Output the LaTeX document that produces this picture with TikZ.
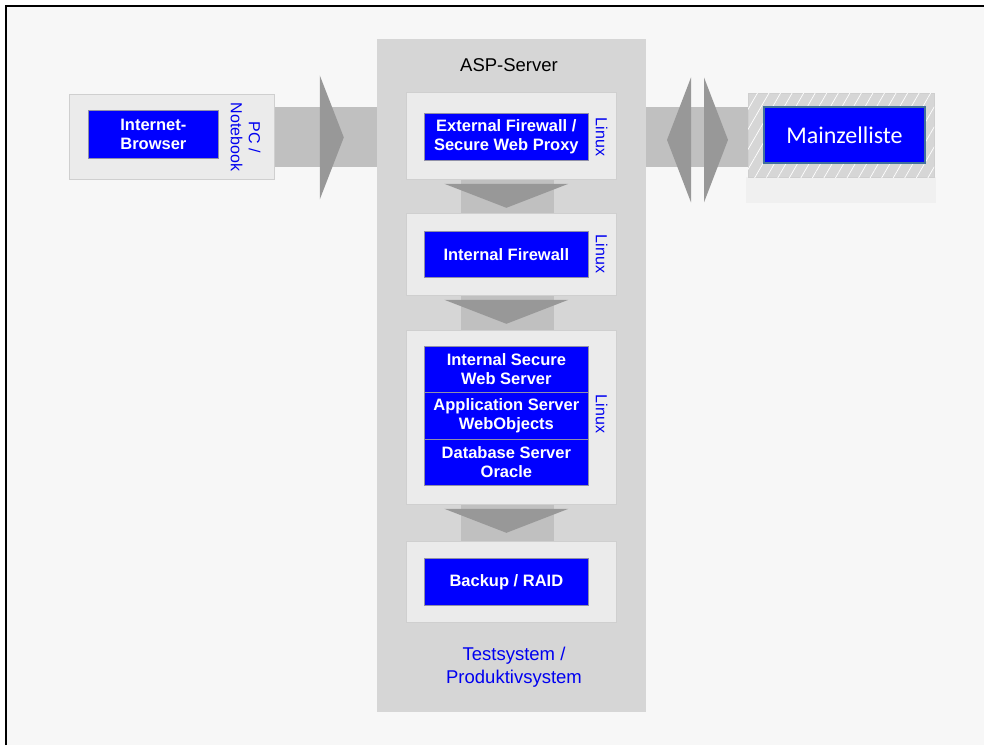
\documentclass[tikz,border=0pt]{standalone}
\usepackage{fontspec}
\setmainfont{Liberation Sans}
\newfontfamily\calibrifont{Carlito}
\usetikzlibrary{calc,patterns.meta}
\definecolor{pagebg}{HTML}{F7F7F7}
\definecolor{serverbg}{HTML}{D6D6D6}
\definecolor{hostbg}{HTML}{EBEBEB}
\definecolor{hostline}{HTML}{CFCFCF}
\definecolor{bandgray}{HTML}{C0C0C0}
\definecolor{arrowgray}{HTML}{989898}
\definecolor{appblue}{HTML}{0000FF}
\definecolor{labelblue}{HTML}{0000F0}
\definecolor{appline}{HTML}{9090A8}
\definecolor{steel}{HTML}{41719C}
\definecolor{shadowbg}{HTML}{F0F0F0}
\tikzset{
  host/.style={draw=hostline, fill=hostbg, line width=0.8pt, anchor=north west, inner sep=0pt},
  app/.style={draw=appline, fill=appblue, line width=0.7pt, anchor=north west, inner sep=0pt,
    text=white, align=center, font=\fontsize{16.5}{19}\selectfont\bfseries},
  oslabel/.style={rotate=-90, text=labelblue, inner sep=0pt, align=center,
    font=\fontsize{16}{18}\selectfont},
  band/.style={fill=bandgray},
  flowtip/.style={fill=arrowgray}
}
\begin{document}
\begin{tikzpicture}[x=1pt,y=-1pt]
\useasboundingbox (0,0) rectangle (984,745);
\fill[white] (0,0) rectangle (984,745);
\fill[pagebg] (6,6) rectangle (984,745);
\draw[line width=1.5pt] (6,745) -- (6,6) -- (984,6);

% ASP server column
\node[fill=serverbg, anchor=north west, minimum width=269pt, minimum height=673pt, inner sep=0pt] (asp) at (377,39) {};
\node[font=\fontsize{18.5}{21}\selectfont] (asptitle) at (509,65) {ASP-Server};

% client side
\node[host, minimum width=205pt, minimum height=85pt] (pc) at (69,94) {};

% Mainzelliste side
\fill[shadowbg] (746,177) rectangle (936,203);
\node[draw=hostline, fill=serverbg, anchor=north west, inner sep=0pt, minimum width=186pt, minimum height=84pt,
  postaction={pattern={Lines[angle=60,distance=10pt,line width=0.7pt]}, pattern color=white}] (mz) at (748,93) {};

% horizontal links
\fill[band] ($(pc.east)+(0,-29.5)$) rectangle ($(asp.west |- pc.east)+(0,30.5)$);
\fill[flowtip] ($(pc.east)+(45,-61.5)$) -- ($(pc.east)+(45,62.5)$) -- ($(pc.east)+(69,0.5)$) -- cycle;
\fill[band] ($(asp.east |- pc.east)+(0,-29.5)$) rectangle ($(mz.west |- pc.east)+(0,30.5)$);
\fill[flowtip] ($(mz.west |- pc.east)+(-57,-59.5)$) -- ($(mz.west |- pc.east)+(-57,65.5)$) -- ($(mz.west |- pc.east)+(-81,3)$) -- cycle;
\fill[flowtip] ($(mz.west |- pc.east)+(-44,-59.5)$) -- ($(mz.west |- pc.east)+(-44,65.5)$) -- ($(mz.west |- pc.east)+(-20,3)$) -- cycle;

% server hosts
\node[host, minimum width=210pt, minimum height=87pt] (h1) at (406,92) {};
\node[host, minimum width=210pt, minimum height=82pt] (h2) at (406,213) {};
\node[host, minimum width=210pt, minimum height=174pt] (h3) at (406,330) {};
\node[host, minimum width=210pt, minimum height=81pt] (h4) at (406,541) {};

% vertical links between hosts
\foreach \a/\b in {h1/h2, h2/h3, h3/h4}{
  \fill[band] ($(\a.south)+(-50,0.4)$) rectangle ($(\b.north)+(43,-0.4)$);
  \fill[flowtip] ($(\a.south)+(-67,4)$) -- ($(\a.south)+(57,4)$) -- ($(\a.south)+(-5,28)$) -- cycle;
}

% applications
\node[app, minimum width=130pt, minimum height=48pt] (browser) at (88,110) {Internet-\\Browser};
\node[oslabel] (pclabel) at (245.5,137) {PC /\\Notebook};

\node[app, minimum width=164pt, minimum height=47pt] (fw1) at (424,113) {External Firewall /\\Secure Web Proxy};
\node[oslabel] (os1) at (601.5,137) {Linux};

\node[app, minimum width=164pt, minimum height=46pt] (fw2) at (424,231) {Internal Firewall};
\node[oslabel] (os2) at (601.5,254) {Linux};

\node[app, minimum width=164pt, minimum height=46pt] (web) at (424,346) {Internal Secure\\Web Server};
\node[app, minimum width=164pt, minimum height=47pt] (appsrv) at (424,392) {Application Server\\WebObjects};
\node[app, minimum width=164pt, minimum height=46pt] (db) at (424,439) {Database Server\\Oracle};
\node[oslabel] (os3) at (601.5,414) {Linux};

\node[app, minimum width=164pt, minimum height=47pt] (backup) at (424,558) {Backup / RAID};

\node[text=labelblue, align=center, font=\fontsize{18.5}{23}\selectfont] (systems) at (514,667) {Testsystem /\\Produktivsystem};

\node[draw=steel, line width=2pt, fill=appblue, anchor=north west, inner sep=0pt, minimum width=161pt, minimum height=56pt,
  text=white, font=\calibrifont\fontsize{24}{28}\selectfont] (mzapp) at (763,106) {Mainzelliste};
\end{tikzpicture}
\end{document}
